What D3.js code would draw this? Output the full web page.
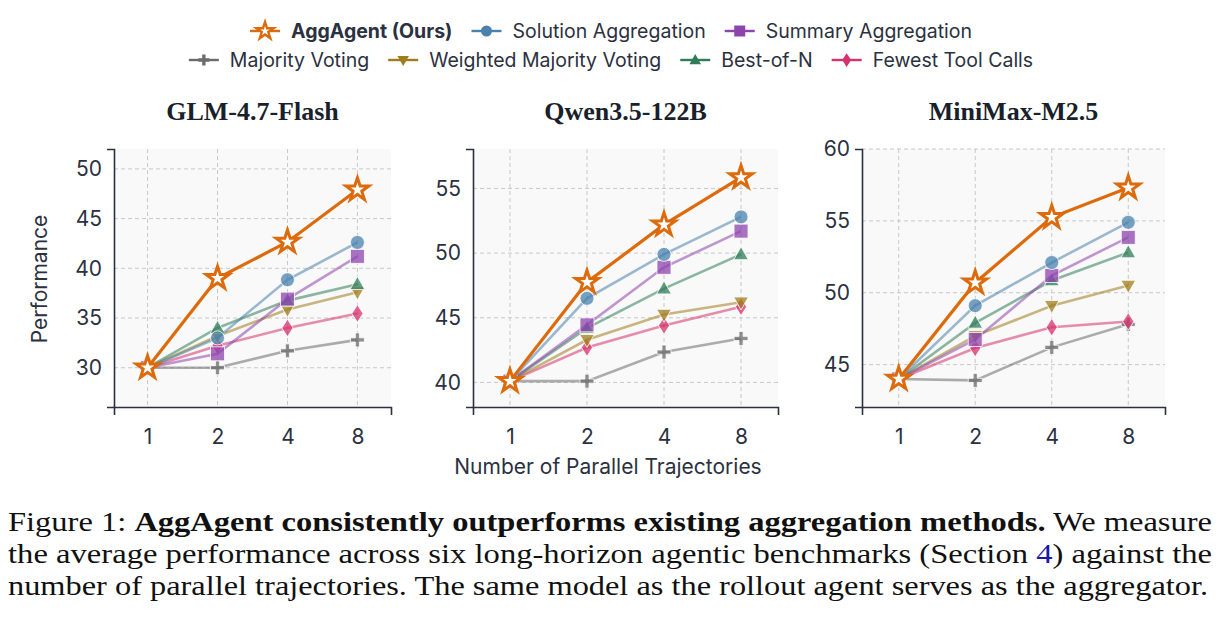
<!DOCTYPE html>
<html>
<head>
<meta charset="utf-8">
<script src="https://cdn.jsdelivr.net/npm/d3@7"></script>
<style>
  body { margin: 0; background: #fff; }
  svg { display: block; }
</style>
</head>
<body>
<svg></svg>
<script>
// x categories and panels
const steps = ["1", "2", "4", "8"];
const models = ["GLM-4.7-Flash", "Qwen3.5-122B", "MiniMax-M2.5"];
const yDomains = [[26.05, 52], [38.1, 58.05], [42.05, 60]];
const yTicks = [[30, 35, 40, 45, 50], [40, 45, 50, 55], [45, 50, 55, 60]];

// one row per model (GLM, Qwen, MiniMax), one value per step
const majorityVoting = [[30.0, 30.0, 31.7, 32.8], [40.1, 40.1, 42.35, 43.4], [44.0, 43.9, 46.2, 47.8]];
const fewestToolCalls = [[30.0, 32.2, 34.0, 35.45], [40.1, 42.7, 44.4, 45.85], [44.0, 46.15, 47.6, 48.0]];
const weightedVoting = [[30.0, 33.2, 35.85, 37.6], [40.1, 43.3, 45.25, 46.2], [44.0, 47.0, 49.1, 50.5]];
const bestOfN = [[30.0, 34.0, 36.75, 38.4], [40.1, 44.2, 47.25, 49.9], [44.0, 47.9, 50.85, 52.8]];
const summaryAgg = [[30.0, 31.4, 36.9, 41.2], [40.1, 44.45, 48.9, 51.7], [44.0, 46.75, 51.2, 53.85]];
const solutionAgg = [[30.0, 33.0, 38.85, 42.6], [40.1, 46.5, 49.9, 52.8], [44.0, 49.1, 52.1, 54.9]];
const aggAgent = [[30.0, 39.0, 42.65, 47.9], [40.1, 47.75, 52.2, 55.85], [44.0, 50.7, 55.25, 57.3]];

const methodNames = ["Majority Voting", "Fewest Tool Calls", "Weighted Majority Voting", "Best-of-N",
  "Summary Aggregation", "Solution Aggregation", "AggAgent (Ours)"];
const methodValues = [majorityVoting, fewestToolCalls, weightedVoting, bestOfN, summaryAgg, solutionAgg, aggAgent];
const methodColors = ["#6b6b6b", "#d6336c", "#a07c1c", "#2f7d58", "#8e44ad", "#4a82ad", "#dd6a0b"];
const methodShapes = ["plus", "diamond", "down", "up", "square", "circle", "star"];

const legendRows = [
  ["AggAgent (Ours)", "Solution Aggregation", "Summary Aggregation"],
  ["Majority Voting", "Weighted Majority Voting", "Best-of-N", "Fewest Tool Calls"]
];

const textColor = "#2b3140";
const width = 1219, height = 621;
const svg = d3.select("svg").attr("width", width).attr("height", height);

const panelLeft = [114, 473, 862];
const panelRight = [391, 778, 1165];
const plotTop = 149, plotBottom = 407;

function shapePath(shape, s) {
  // s ~ half size in px
  switch (shape) {
    case "circle": return d3.symbol(d3.symbolCircle, Math.PI * s * s)();
    case "square": return `M${-s},${-s}H${s}V${s}H${-s}Z`;
    case "up": return `M0,${-s * 1.1}L${s * 1.05},${s * 0.75}L${-s * 1.05},${s * 0.75}Z`;
    case "down": return `M0,${s * 1.1}L${s * 1.05},${-s * 0.75}L${-s * 1.05},${-s * 0.75}Z`;
    case "diamond": return `M0,${-s * 1.25}L${s * 0.8},0L0,${s * 1.25}L${-s * 0.8},0Z`;
    case "plus": {
      const a = s, b = s * 0.3;
      return `M${-b},${-a}H${b}V${-b}H${a}V${b}H${b}V${a}H${-b}V${b}H${-a}V${-b}H${-b}Z`;
    }
    case "star": return d3.symbol(d3.symbolStar, (s * s) / 0.8908130915292852)();
  }
}

models.forEach((model, mi) => {
  const g = svg.append("g");
  const x = d3.scalePoint().domain(steps).range([panelLeft[mi], panelRight[mi]]).padding(0.48);
  const y = d3.scaleLinear().domain(yDomains[mi]).range([plotBottom, plotTop]);

  g.append("rect")
    .attr("x", panelLeft[mi]).attr("y", plotTop)
    .attr("width", panelRight[mi] - panelLeft[mi]).attr("height", plotBottom - plotTop)
    .attr("rx", 3)
    .attr("fill", "#f9f9f9");

  // grid
  g.selectAll(".gy").data(yTicks[mi]).enter().append("line")
    .attr("x1", panelLeft[mi]).attr("x2", panelRight[mi])
    .attr("y1", d => y(d)).attr("y2", d => y(d))
    .attr("stroke", "#c8c8c8").attr("stroke-width", 1).attr("stroke-dasharray", "4,3");
  g.selectAll(".gx").data(steps).enter().append("line")
    .attr("x1", d => x(d)).attr("x2", d => x(d))
    .attr("y1", plotTop).attr("y2", plotBottom)
    .attr("stroke", "#c8c8c8").attr("stroke-width", 1).attr("stroke-dasharray", "4,3");

  // axes
  const yAxis = g.append("g").attr("transform", `translate(${panelLeft[mi]},0)`)
    .call(d3.axisLeft(y).tickValues(yTicks[mi]).tickSizeInner(0).tickSizeOuter(7).tickPadding(12));
  const xAxis = g.append("g").attr("transform", `translate(0,${plotBottom})`)
    .call(d3.axisBottom(x).tickSizeInner(0).tickSizeOuter(8).tickPadding(22));
  [yAxis, xAxis].forEach(ax => {
    ax.select(".domain").attr("stroke", textColor).attr("stroke-width", 1.6);
    ax.selectAll("text").attr("fill", textColor).attr("font-family", "Inter, sans-serif").attr("font-size", 21);
  });

  // lines + markers
  const line = d3.line().x((d, i) => x(steps[i])).y(d => y(d));
  methodValues.forEach((vals, k) => {
    const isOurs = k === methodValues.length - 1;
    const data = vals[mi];
    g.append("path").datum(data)
      .attr("d", line)
      .attr("fill", "none")
      .attr("stroke", methodColors[k])
      .attr("stroke-opacity", isOurs ? 1 : 0.55)
      .attr("stroke-width", isOurs ? 3.2 : 2.6);
    g.selectAll(null).data(data).enter().append("path")
      .attr("transform", (d, i) => `translate(${x(steps[i])},${y(d)})`)
      .attr("d", shapePath(methodShapes[k], isOurs ? 12 : 7))
      .attr("fill", isOurs ? "#fff" : methodColors[k])
      .attr("fill-opacity", isOurs ? 1 : 0.75)
      .attr("stroke", isOurs ? methodColors[k] : "#fff")
      .attr("stroke-width", isOurs ? 3 : 0.8)
      .attr("stroke-linejoin", "miter");
  });

  // title
  g.append("text")
    .attr("x", (panelLeft[mi] + panelRight[mi]) / 2).attr("y", 120)
    .attr("text-anchor", "middle")
    .attr("font-family", "'Liberation Serif', serif").attr("font-weight", "bold")
    .attr("font-size", 26).attr("fill", "#1a1f2c")
    .text(model);
});

svg.append("text")
  .attr("transform", "translate(47,279) rotate(-90)")
  .attr("text-anchor", "middle")
  .attr("font-family", "Inter, sans-serif").attr("font-size", 21).attr("fill", textColor)
  .text("Performance");

svg.append("text")
  .attr("x", 608).attr("y", 474)
  .attr("text-anchor", "middle")
  .attr("font-family", "Inter, sans-serif").attr("font-size", 21).attr("fill", textColor)
  .text("Number of Parallel Trajectories");

// legend
const legend = svg.append("g");
const rowY = [31, 60];
legendRows.forEach((row, r) => {
  const items = row.map(name => {
    const k = methodNames.indexOf(name);
    const it = legend.append("g");
    it.append("line").attr("x1", 0).attr("x2", 30).attr("y1", 0).attr("y2", 0)
      .attr("stroke", methodColors[k]).attr("stroke-width", 2.4);
    const isOurs = k === methodValues.length - 1;
    it.append("path").attr("transform", "translate(15,0)")
      .attr("d", shapePath(methodShapes[k], isOurs ? 9 : 5.5))
      .attr("fill", isOurs ? "#fff" : methodColors[k])
      .attr("stroke", isOurs ? methodColors[k] : "none")
      .attr("stroke-width", 2.4);
    const t = it.append("text").attr("x", 41).attr("dy", "0.35em")
      .attr("font-family", "Inter, sans-serif").attr("font-size", 19.5)
      .attr("font-weight", isOurs ? "bold" : "normal")
      .attr("fill", textColor).text(name);
    return { it, w: 41 + t.node().getComputedTextLength() };
  });
  const gap = 19;
  const total = d3.sum(items, d => d.w) + gap * (items.length - 1);
  let cx = 611 - total / 2;
  items.forEach(d => {
    d.it.attr("transform", `translate(${cx},${rowY[r]})`);
    cx += d.w + gap;
  });
});

// caption
const caption = svg.append("g")
  .attr("font-family", "'Liberation Serif', serif").attr("font-size", 28).attr("fill", "#111");
const cap1 = caption.append("text").attr("x", 8).attr("y", 531)
  .attr("textLength", 1204).attr("lengthAdjust", "spacingAndGlyphs");
cap1.append("tspan").text("Figure 1: ");
cap1.append("tspan").attr("font-weight", "bold").text("AggAgent consistently outperforms existing aggregation methods.");
cap1.append("tspan").text(" We measure");
const cap2 = caption.append("text").attr("x", 8).attr("y", 563)
  .attr("textLength", 1204).attr("lengthAdjust", "spacingAndGlyphs");
cap2.append("tspan").text("the average performance across six long-horizon agentic benchmarks (Section ");
cap2.append("tspan").attr("fill", "#1a1aa6").text("4");
cap2.append("tspan").text(") against the");
caption.append("text").attr("x", 8).attr("y", 595)
  .attr("textLength", 1200).attr("lengthAdjust", "spacingAndGlyphs")
  .text("number of parallel trajectories. The same model as the rollout agent serves as the aggregator.");
</script>
</body>
</html>
